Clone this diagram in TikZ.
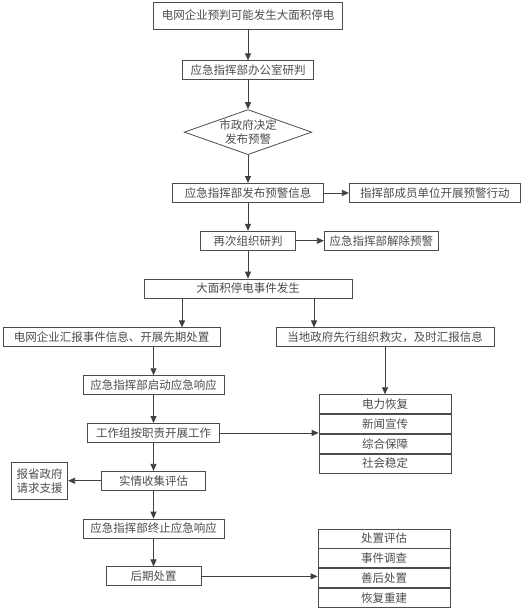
\documentclass[tikz,border=0pt]{standalone}
\usepackage{fontspec}
\newfontfamily\cjk{Noto Sans CJK SC}
\usetikzlibrary{arrows.meta,
shapes.geometric,
positioning}

\begin{document}
\begin{tikzpicture}[
  x=1pt, y=-1pt,
  every node/.style={font=\cjk\fontsize{11.5}{14}\selectfont, text=black!70},
  box/.style={draw=black!70, line width=0.8pt, minimum height=19pt, inner sep=0pt},
  arr/.style={draw=black!75, line width=0.8pt, -{Triangle[length=7pt,width=6pt]}}
]
\useasboundingbox (0,0) rectangle (523,610);

  \node [
    box,
    minimum width = 189pt,
    minimum height = 27pt] (b1) at (248,15.5) {电网企业预判可能发生大面积停电};
  \node [
    box,
    minimum width = 131pt,
    below = 31pt of b1
  ] (b2) {应急指挥部办公室研判};
  \node [
    draw=black!70,
    line width=0.8pt,
    diamond,
    aspect=2.83,
    inner sep=0pt,
    align=center,
    below = 29pt of b2
  ] (d1) {市政府决定\\发布预警};
  \node [
    box,
    minimum width = 151pt,
    below = 28pt of d1
  ] (b4) {应急指挥部发布预警信息};
  \node [
    box,
    minimum width = 171pt,
    right = 25pt of b4
  ] (b5) {指挥部成员单位开展预警行动};
  \node [
    box,
    minimum width = 95pt,
    below = 28pt of b4
  ] (b6) {再次组织研判};
  \node [
    box,
    minimum width = 114pt,
    right = 28pt of b6
  ] (b7) {应急指挥部解除预警};
  \node [
    box,
    minimum width = 208pt,
    below = 28pt of b6
  ] (b8) {大面积停电事件发生};

  % two branches
  \node [
    box,
    minimum width = 217pt,
    below = 29pt of b8,
    xshift = -136.5pt
  ] (b9) {电网企业汇报事件信息、开展先期处置};
  \node [
    box,
    minimum width = 218pt,
    below = 29pt of b8,
    xshift = 137pt
  ] (b10) {当地政府先行组织救灾，及时汇报信息};

  \node [
    box,
    minimum width = 141pt,
    below = 28pt of b9,
    xshift = 42pt
  ] (b11) {应急指挥部启动应急响应};
  \node [
    box,
    minimum width = 132pt,
    below = 28pt of b11
  ] (b13) {工作组按职责开展工作};
  \node [
    box,
    minimum width = 104pt,
    below = 28pt of b13
  ] (b14) {实情收集评估};
  \node [
    box,
    minimum width = 56pt,
    minimum height = 37pt,
    align = center,
    left = 33pt of b14
  ] (b15) {报省政府\\请求支援};
  \node [
    box,
    minimum width = 141pt,
    below = 28pt of b14
  ] (b16) {应急指挥部终止应急响应};
  \node [
    box,
    minimum width = 95pt,
    below = 28pt of b16
  ] (b17) {后期处置};

  % task stacks
  \node [box, minimum width = 132pt, below = 47pt of b10] (s1) {电力恢复};
  \node [box, minimum width = 132pt, below = 0pt of s1] (s2) {新闻宣传};
  \node [box, minimum width = 132pt, below = 0pt of s2] (s3) {综合保障};
  \node [box, minimum width = 132pt, below = 0pt of s3] (s4) {社会稳定};

  \node [box, minimum width = 132pt] (t1) at (384,538.5) {处置评估};
  \node [box, minimum width = 132pt, below = 0pt of t1] (t2) {事件调查};
  \node [box, minimum width = 132pt, below = 0pt of t2] (t3) {善后处置};
  \node [box, minimum width = 132pt, below = 0pt of t3] (t4) {恢复重建};

\foreach \a/\b in {b1/b2, b2/d1, d1/b4, b4/b5, b4/b6, b6/b7, b6/b8,
                   b11/b13, b13/b14, b14/b16, b16/b17, b14/b15, b10/s1} {
  \draw [arr] (\a) -- (\b);
}

\coordinate (c1) at ([xshift=-66pt]b8.south);
\coordinate (c2) at ([xshift=66pt]b8.south);
\draw [arr] (c1) -- (c1 |- b9.north);
\draw [arr] (c2) -- (c2 |- b10.north);
\draw [arr] (b11.north |- b9.south) -- (b11.north);
\draw [arr] (b13.east) -- (b13.east -| s1.west);
\draw [arr] (b17.east) -- (b17.east -| t1.west);

\end{tikzpicture}
\end{document}
